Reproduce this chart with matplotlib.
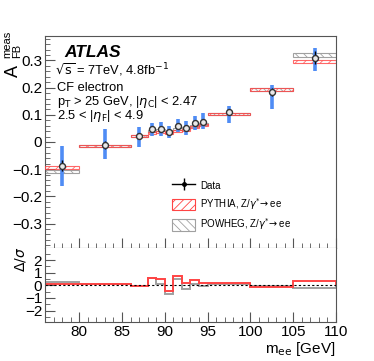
import numpy as np
import matplotlib
matplotlib.use("Agg")
import matplotlib.pyplot as plt
import matplotlib.patches as mpatches
from matplotlib.lines import Line2D
from matplotlib.legend_handler import HandlerTuple
from matplotlib.ticker import MultipleLocator, FuncFormatter

plt.rcParams['font.family'] = ['Liberation Sans', 'DejaVu Sans']
plt.rcParams['hatch.linewidth'] = 0.6

# bins in m_ee [GeV]
edges = [76, 80, 86, 88, 89, 90, 91, 92, 93, 94, 95, 100, 105, 110]
centers = [78, 83, 87, 88.5, 89.5, 90.5, 91.5, 92.5, 93.5, 94.5, 97.5, 102.5, 107.5]

# measured A_FB
data = [-0.088, -0.011, 0.022, 0.046, 0.048, 0.038, 0.060, 0.052, 0.070, 0.075, 0.111, 0.184, 0.310]
stat = [0.02, 0.015, 0.01, 0.008, 0.008, 0.008, 0.008, 0.008, 0.008, 0.008, 0.01, 0.015, 0.024]
tot_lo = [0.075, 0.052, 0.041, 0.025, 0.025, 0.022, 0.025, 0.025, 0.025, 0.028, 0.042, 0.064, 0.049]
tot_hi = [0.075, 0.057, 0.034, 0.025, 0.025, 0.022, 0.025, 0.025, 0.025, 0.030, 0.021, 0.025, 0.037]

# MC predictions
pythia = [-0.093, -0.015, 0.022, 0.034, 0.036, 0.034, 0.040, 0.045, 0.055, 0.062, 0.103, 0.193, 0.296]
pythia_err = [0.006, 0.004, 0.003, 0.004, 0.004, 0.004, 0.004, 0.004, 0.004, 0.004, 0.003, 0.005, 0.006]
powheg = [-0.109, -0.015, 0.022, 0.040, 0.044, 0.040, 0.047, 0.052, 0.060, 0.066, 0.104, 0.194, 0.320]
powheg_err = [0.006, 0.004, 0.003, 0.004, 0.004, 0.004, 0.004, 0.004, 0.004, 0.004, 0.003, 0.005, 0.006]

# pulls Delta/sigma
pull_pythia = [0.08, 0.10, -0.08, 0.55, 0.50, -0.43, 0.76, 0.19, 0.40, 0.20, 0.22, -0.13, 0.35]
pull_powheg = [0.25, 0.10, -0.08, 0.57, 0.10, -0.70, 0.50, -0.30, 0.14, -0.08, 0.14, -0.05, -0.22]

red = '#ff4444'
grey = '#a0a0a0'
blue = '#4f8cf5'
frame = '#555555'

W, H = 374, 361
fig = plt.figure(figsize=(W / 100, H / 100), dpi=100)
ax = fig.add_axes([0.1203, 0.313, 0.7781, 0.5873])
rx = fig.add_axes([0.1203, 0.108, 0.7781, 0.205], sharex=ax)

widths = np.diff(edges)
lefts = np.array(edges[:-1])

ax.bar(lefts, 2 * np.array(powheg_err), width=widths, bottom=np.array(powheg) - np.array(powheg_err),
       align='edge', facecolor='none', edgecolor=grey, hatch='\\\\\\\\', linewidth=0.8, zorder=2)
ax.bar(lefts, 2 * np.array(pythia_err), width=widths, bottom=np.array(pythia) - np.array(pythia_err),
       align='edge', facecolor='none', edgecolor=red, hatch='////', linewidth=0.8, alpha=0.8, zorder=3)

ax.errorbar(centers, data, yerr=[tot_lo, tot_hi], fmt='none', ecolor=blue, elinewidth=2.6, zorder=4)
ax.errorbar(centers, data, yerr=stat, fmt='o', color='k', ms=4.3, mfc='#e8e8e8', mec='#333333',
            mew=1.0, elinewidth=1.0, capsize=0, zorder=5)

ax.set_xlim(76, 110)
ax.set_ylim(-0.39, 0.39)

ax.text(0.065, 0.901, 'ATLAS', transform=ax.transAxes, fontsize=12.5, fontweight='bold', style='italic',
        va='baseline')
ax.text(0.035, 0.816, r'$\sqrt{\mathrm{s}}$ = 7TeV, 4.8fb$^{-1}$', transform=ax.transAxes, fontsize=9.3,
        va='baseline')
ax.text(0.04, 0.741, 'CF electron', transform=ax.transAxes, fontsize=9.3, va='baseline')
ax.text(0.04, 0.676, r'p$_\mathrm{T}$ > 25 GeV, |$\eta_\mathrm{C}$| < 2.47', transform=ax.transAxes,
        fontsize=9.3, va='baseline')
ax.text(0.04, 0.607, r'2.5 < |$\eta_\mathrm{F}$| < 4.9', transform=ax.transAxes, fontsize=9.3,
        va='baseline')

h_data = (Line2D([], [], color='k', lw=1.0),
          Line2D([], [], color='k', marker='|', ms=9, mew=1.0, ls='none'),
          Line2D([], [], color='k', marker='o', ms=2.5, ls='none'))
h_py = mpatches.Patch(facecolor='none', edgecolor=red, hatch='////', linewidth=0.8)
h_pw = mpatches.Patch(facecolor='none', edgecolor=grey, hatch='\\\\\\\\', linewidth=0.8)
ax.legend([h_data, h_py, h_pw], ['Data', r'PYTHIA, Z/$\gamma^{*}\!\rightarrow$ee',
                                 r'POWHEG, Z/$\gamma^{*}\!\rightarrow$ee'],
          handler_map={tuple: HandlerTuple(ndivide=1, pad=0)},
          loc='upper left', bbox_to_anchor=(0.42, 0.345), frameon=False, fontsize=7,
          handlelength=2.4, handleheight=1.4, labelspacing=0.5, handletextpad=0.5, borderpad=0)

# y title A_FB^meas, ROOT style with stacked sub/superscript
fig.text(18 / W, 1 - 77 / H, 'A', fontsize=13, rotation=90, rotation_mode='anchor',
         ha='left', va='baseline')
fig.text(20.5 / W, 1 - 58 / H, 'FB', fontsize=8, rotation=90, rotation_mode='anchor',
         ha='left', va='baseline')
fig.text(10.5 / W, 1 - 58 / H, 'meas', fontsize=8, rotation=90, rotation_mode='anchor',
         ha='left', va='baseline')
fig.text(28 / W, 1 - 247 / H, r'$\Delta/\sigma$', fontsize=10, rotation=90,
         rotation_mode='anchor', ha='right', va='bottom')

rx.stairs(pull_powheg, edges, color=grey, linewidth=1.4)
rx.stairs(pull_pythia, edges, color=red, linewidth=1.4)
rx.axhline(0, color='k', linestyle=(0, (2, 2)), linewidth=0.8)
rx.set_ylim(-2.9, 2.95)
rx.set_xlabel(r'm$_\mathrm{ee}$ [GeV]', fontsize=11, loc='right', labelpad=1)

fmt = FuncFormatter(lambda v, p: ('%g' % round(v, 3)).replace('-', '\u2212'))
for a in (ax, rx):
    for s in a.spines.values():
        s.set_color(frame)
    a.spines['top'].set_visible(a is ax)
    a.tick_params(which='both', direction='in', top=False, right=False, color=frame, labelsize=11, pad=2)
    a.tick_params(which='major', length=7)
    a.tick_params(which='minor', length=3.5)
    a.xaxis.set_major_locator(MultipleLocator(5))
    a.xaxis.set_minor_locator(MultipleLocator(1))
    a.yaxis.set_major_formatter(fmt)
    a.xaxis.set_major_formatter(fmt)

ax.yaxis.set_major_locator(MultipleLocator(0.1))
ax.yaxis.set_minor_locator(MultipleLocator(0.02))
rx.yaxis.set_major_locator(MultipleLocator(1))
rx.yaxis.set_minor_locator(MultipleLocator(0.5))
plt.setp(ax.get_xticklabels(), visible=False)

fig.savefig('out.png', dpi=100)
